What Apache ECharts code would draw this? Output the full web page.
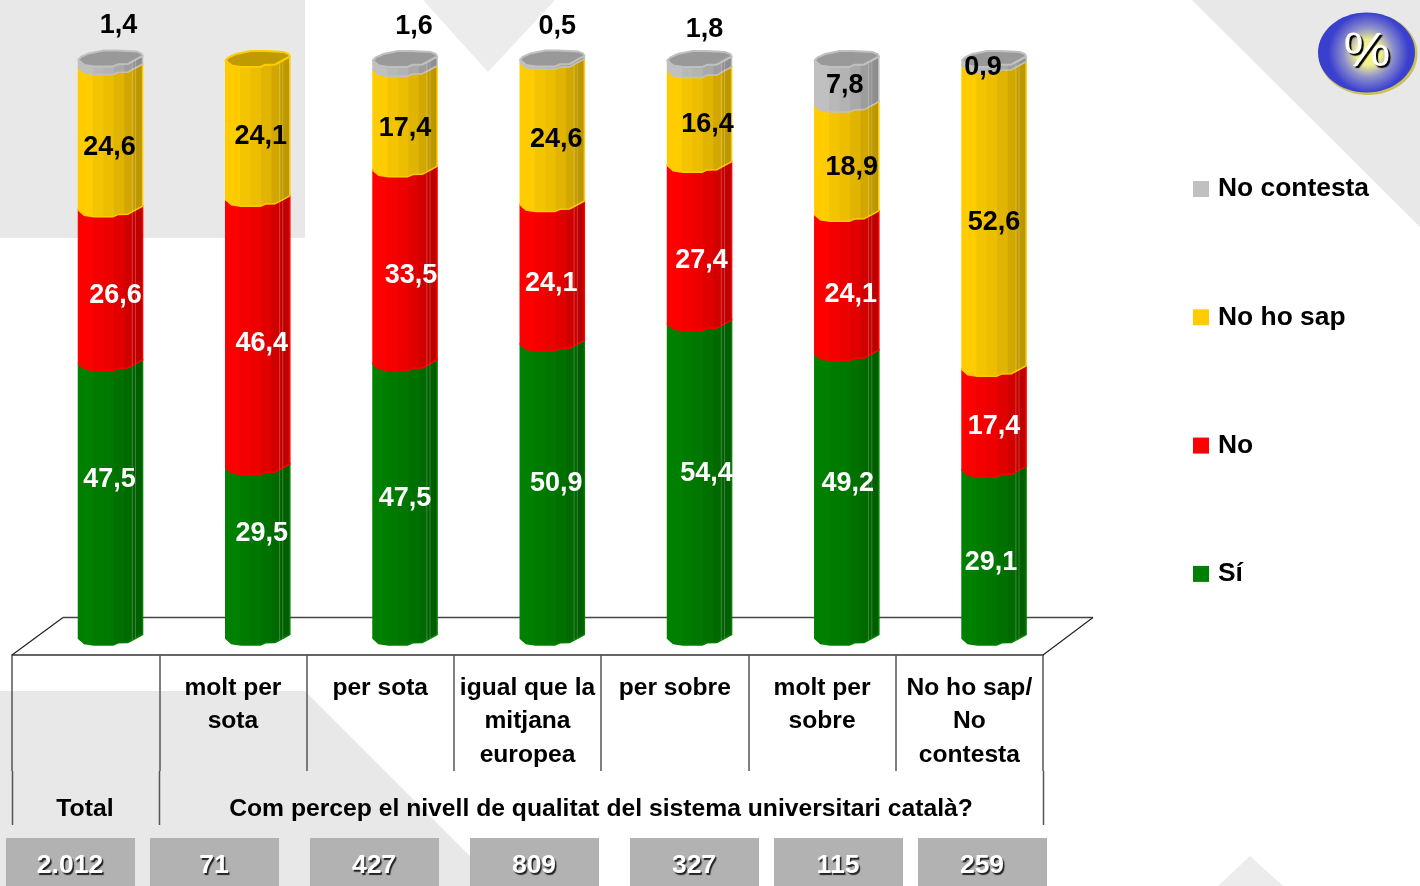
<!DOCTYPE html>
<html>
<head>
<meta charset="utf-8">
<style>html,body{margin:0;padding:0;background:#fff}#c{width:1420px;height:886px}</style>
<script src="https://cdn.jsdelivr.net/npm/echarts@6/dist/echarts.min.js"></script>
</head>
<body>
<div id="c"></div>
<script>
// ---- data ----
const groupLabels = ['', 'molt per\nsota', 'per sota', 'igual que la\nmitjana\neuropea', 'per sobre', 'molt per\nsobre', 'No ho sap/\nNo\ncontesta'];
const seriesNames = ['Sí', 'No', 'No ho sap', 'No contesta'];
const si         = [47.5, 29.5, 47.5, 50.9, 54.4, 49.2, 29.1];
const no         = [26.6, 46.4, 33.5, 24.1, 27.4, 24.1, 17.4];
const noHoSap    = [24.6, 24.1, 17.4, 24.6, 16.4, 18.9, 52.6];
const noContesta = [1.4, 0, 1.6, 0.5, 1.8, 7.8, 0.9];
const sampleSizes = ['2.012', '71', '427', '809', '327', '115', '259'];
const totalLabel = 'Total';
const questionLabel = 'Com percep el nivell de qualitat del sistema universitari català?';

// ---- layout / style (not data) ----
const FONT = '"Liberation Sans", Arial, sans-serif';
const colors = ['#008000', '#ff0000', '#ffcc00', '#c0c0c0'];
const capColors = [null, null, '#bf9a00', '#999999'];
const textColors = ['#fff', '#fff', '#000', '#000'];
const labelNudge = [
  [[-1,-28],[4,-26],[0,-9],[4,-14],[7,-14],[1,-19],[-3,2]],
  [[5,2],[4,3],[6,2],[-1,2],[2,9],[4,4],[0,0]],
  [[-1,2],[3,0],[0,2],[4,-1],[8,0],[5,1],[0,-2]],
  [[8,-45],[0,0],[9,-45],[5,-41],[5,-43],[-2,-4],[-11,-2]]
];
const frontEdge = [[0,-6.5],[.09,-1.5],[.24,0],[.54,0],[.62,-2.3],[.77,-2.5],[.9,-7],[1,-10.5]];
const backEdge  = [[1,-10.5],[.98,-13],[.9,-15],[.6,-16],[.39,-16],[.16,-13],[.04,-9.5],[0,-6.5]];
const shadeStops = [[0,1],[.22,1],[.24,.96],[.38,.96],[.4,.93],[.54,.93],[.56,.88],[.7,.88],[.72,.82],[.84,.82],[.86,.76],[1,.72]];
const glintAt = [.84, .89];
const boxLefts = [6, 150, 310, 470, 630, 774, 918];
const BOX_W = 129;
const longTicks = [12, 159, 1043];

function shade(hex, f) {
  const n = parseInt(hex.slice(1), 16);
  const ch = s => Math.round(((n >> s) & 255) * f);
  return 'rgb(' + ch(16) + ',' + ch(8) + ',' + ch(0) + ')';
}
function gradient(hex) {
  return { type: 'linear', x: 0, y: 0, x2: 1, y2: 0,
    colorStops: shadeStops.map(s => ({ offset: s[0], color: shade(hex, s[1]) })) };
}
function edgeAt(t) {
  for (let i = 1; i < frontEdge.length; i++) {
    const a = frontEdge[i - 1], b = frontEdge[i];
    if (t <= b[0]) return a[1] + (b[1] - a[1]) * (t - a[0]) / (b[0] - a[0]);
  }
  return 0;
}

const valueArrays = [si, no, noHoSap, noContesta];
function fmt(v) { return String(v.toFixed(1)).replace('.', ','); }

function makeSeries(si_) {
  const arr = valueArrays[si_];
  const color = colors[si_];
  const data = arr.map((v, i) => {
    let base = 0;
    for (let k = 0; k < si_; k++) base += valueArrays[k][i];
    return [i, base, base + v];
  });
  return {
    name: seriesNames[si_],
    type: 'custom',
    xAxisIndex: 0,
    yAxisIndex: 0,
    clip: false,
    z: 3,
    itemStyle: { color: color },
    encode: { x: 0, y: [1, 2] },
    data: data,
    renderItem: function (params, api) {
      const i = api.value(0), v0 = api.value(1), v1 = api.value(2);
      if (v1 - v0 <= 0) return { type: 'group', children: [] };
      const lo = api.coord([i, v0]), hi = api.coord([i, v1]);
      const w = api.size([1, 0])[0] * 0.435;
      const xL = lo[0] - w / 2;
      const topP = frontEdge.map(p => [xL + p[0] * w, hi[1] + p[1]]);
      const botP = frontEdge.map(p => [xL + p[0] * w, lo[1] + p[1]]).reverse();
      const children = [{
        type: 'polygon', shape: { points: topP.concat(botP) },
        style: { fill: gradient(color), stroke: color, lineWidth: 1.5 }
      }];
      glintAt.forEach(t => {
        const x = xL + t * w, d = edgeAt(t);
        children.push({ type: 'line',
          shape: { x1: x, y1: hi[1] + d, x2: x, y2: lo[1] + d },
          style: { stroke: 'rgba(255,255,255,0.22)', lineWidth: 1 } });
      });
      // cap on the topmost visible segment
      const isTop = si_ === 3 || (si_ === 2 && noContesta[i] === 0);
      if (isTop) {
        const capPts = frontEdge.map(p => [xL + p[0] * w, hi[1] + p[1]])
          .concat(backEdge.map(p => [xL + p[0] * w, hi[1] + p[1]]));
        children.push({ type: 'polygon', shape: { points: capPts },
          style: { fill: capColors[si_], stroke: color, lineWidth: 2 } });
      }
      const n = labelNudge[si_][i];
      const mid = api.coord([i, (v0 + v1) / 2]);
      children.push({ type: 'text', z2: 100,
        style: { text: fmt(v1 - v0), x: mid[0] + n[0], y: mid[1] + n[1],
          align: 'center', verticalAlign: 'middle',
          font: 'bold 27px ' + FONT, fill: textColors[si_] } });
      return { type: 'group', children: children };
    }
  };
}

const BG = '#e8e8e8';
const AXC = '#555';
const graphicEls = [
  { type: 'rect', z: -10, shape: { x: 0, y: 0, width: 305, height: 238 }, style: { fill: BG } },
  { type: 'polygon', z: -10, shape: { points: [[423,0],[488,72],[555,0]] }, style: { fill: '#ececec' } },
  { type: 'polygon', z: -10, shape: { points: [[1192,0],[1420,227],[1420,0]] }, style: { fill: BG } },
  { type: 'polygon', z: -10, shape: { points: [[0,691],[305,691],[500,886],[0,886]] }, style: { fill: BG } },
  { type: 'polygon', z: -10, shape: { points: [[1218,886],[1250,856],[1283,886]] }, style: { fill: '#ececec' } },
  // floor
  { type: 'line', z: 1, shape: { x1: 63, y1: 617.5, x2: 1093, y2: 617.5 }, style: { stroke: '#444', lineWidth: 1.5 } },
  { type: 'line', z: 1, shape: { x1: 12, y1: 655, x2: 63, y2: 617.5 }, style: { stroke: '#222', lineWidth: 1.2 } },
  { type: 'line', z: 1, shape: { x1: 1043, y1: 655, x2: 1093, y2: 617.5 }, style: { stroke: '#222', lineWidth: 1.2 } },
  // total / question
  { type: 'text', z: 5, style: { text: totalLabel, x: 85, y: 809, align: 'center', verticalAlign: 'middle', font: 'bold 24.8px ' + FONT, fill: '#000' } },
  { type: 'text', z: 5, style: { text: questionLabel, x: 601, y: 809, align: 'center', verticalAlign: 'middle', font: 'bold 24.7px ' + FONT, fill: '#000' } }
];
longTicks.forEach(x => graphicEls.push({ type: 'line', z: 1,
  shape: { x1: x + .5, y1: 771, x2: x + .5, y2: 825 }, style: { stroke: AXC, lineWidth: 1.5 } }));
sampleSizes.forEach((s, i) => {
  graphicEls.push({ type: 'rect', z: 2, shape: { x: boxLefts[i], y: 838, width: BOX_W, height: 48 }, style: { fill: '#b2b2b2' } });
  graphicEls.push({ type: 'text', z: 5, style: { text: s, x: boxLefts[i] + BOX_W / 2 - .5, y: 866,
    align: 'center', verticalAlign: 'middle', font: 'bold 26.5px ' + FONT, fill: '#fff',
    textShadowColor: '#222', textShadowOffsetX: 1.5, textShadowOffsetY: 1.5, textShadowBlur: 1 } });
});
// % badge
graphicEls.push({ type: 'ellipse', z: 2, shape: { cx: 1368, cy: 54, rx: 49.5, ry: 41 }, style: { fill: '#c9c25a' } });
graphicEls.push({ type: 'ellipse', z: 2, shape: { cx: 1366.5, cy: 52.5, rx: 48.5, ry: 40 }, style: { fill: {
  type: 'radial', x: .52, y: .5, r: .5,
  colorStops: [{ offset: 0, color: '#ffff88' }, { offset: .32, color: '#eeee90' }, { offset: .62, color: '#8e90cc' }, { offset: 1, color: '#3a3fcf' }] } } });
graphicEls.push({ type: 'text', z: 5, x: 1367, y: 53, scaleX: 1.1, style: { text: '%', x: 0, y: 0, align: 'center', verticalAlign: 'middle',
  font: '48px ' + FONT, fill: '#fff', textShadowColor: '#000', textShadowOffsetX: 2, textShadowOffsetY: 2, textShadowBlur: 1 } });

const option = {
  animation: false,
  backgroundColor: '#fff',
  textStyle: { fontFamily: FONT },
  grid: [
    { left: 36.9, width: 1030.8, top: 67, height: 578, containLabel: false },
    { left: 12, width: 1031, top: 600, height: 55, containLabel: false }
  ],
  xAxis: [
    { type: 'category', gridIndex: 0, data: groupLabels.map((_, i) => 'b' + i), show: false },
    { type: 'category', gridIndex: 1, data: groupLabels,
      axisLine: { show: true, lineStyle: { color: '#333', width: 1.5 } },
      axisTick: { show: true, length: 116, lineStyle: { color: AXC, width: 1.5 } },
      axisLabel: { show: true, interval: 0, margin: 16, color: '#000', lineHeight: 33.5, fontSize: 24.6, fontWeight: 'bold', fontFamily: FONT, align: 'center', verticalAlign: 'top' } }
  ],
  yAxis: [
    { type: 'value', gridIndex: 0, min: 0, max: 100, show: false },
    { type: 'value', gridIndex: 1, min: 0, max: 100, show: false }
  ],
  legend: {
    orient: 'vertical', left: 1188, top: 169, itemWidth: 16, itemHeight: 16, itemGap: 98.3,
    icon: 'rect', selectedMode: false,
    data: ['No contesta', 'No ho sap', 'No', 'Sí'],
    textStyle: { fontSize: 26.4, fontWeight: 'bold', fontFamily: FONT, color: '#000', lineHeight: 30, padding: [0, 0, 0, 4] }
  },
  graphic: { elements: graphicEls },
  series: [0, 1, 2, 3].map(makeSeries)
};
const chart = echarts.init(document.getElementById('c'), null, { renderer: 'canvas' });
chart.setOption(option);
</script>
</body>
</html>
